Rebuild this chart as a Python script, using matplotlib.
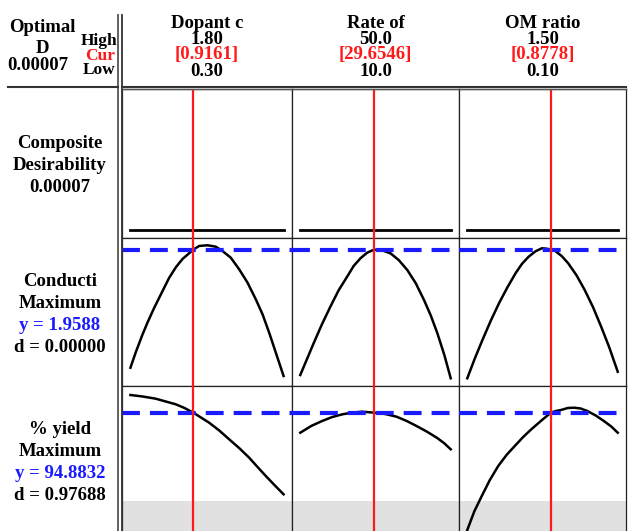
"""
Response optimizer panel: composite desirability, conductivity and % yield
traced against the three factors, with current settings marked in red.
"""
import numpy as np
import matplotlib.pyplot as plt

W, H = 628, 531

# factors
factor_names = ["Dopant c", "Rate of", "OM ratio"]
factor_low = [0.30, 10.0, 0.10]
factor_high = [1.80, 50.0, 1.50]
factor_cur = [0.9161, 29.6546, 0.8778]
low_labels = ["0.30", "10.0", "0.10"]
high_labels = ["1.80", "50.0", "1.50"]
cur_labels = ["[0.9161]", "[29.6546]", "[0.8778]"]

# composite desirability
composite_d = 0.00007

# conductivity (maximise)
cond_y = 1.9588
cond_d = 0.00000
cond_x1 = [0.30, 0.352, 0.418, 0.467, 0.532, 0.614, 0.679, 0.745, 0.810, 0.9161, 0.973,
           1.055, 1.136, 1.202, 1.283, 1.365, 1.447, 1.528, 1.594, 1.659, 1.724, 1.80]
cond_v1 = [0.626, 0.800, 1.000, 1.135, 1.300, 1.490, 1.640, 1.760, 1.853, 1.9588, 2.000,
           2.008, 1.992, 1.943, 1.868, 1.737, 1.586, 1.398, 1.229, 1.021, 0.796, 0.533]
cond_x2 = [10.0, 13.55, 15.8, 18.0, 20.2, 22.45, 24.2, 26.0, 27.8, 29.6546, 31.8,
           34.0, 36.2, 38.45, 40.7, 42.9, 44.7, 46.45, 48.3, 50.0]
cond_v2 = [0.544, 0.902, 1.120, 1.315, 1.500, 1.653, 1.775, 1.861, 1.925, 1.9588, 1.950,
           1.917, 1.840, 1.729, 1.580, 1.390, 1.215, 1.015, 0.770, 0.507]
cond_x3 = [0.10, 0.17, 0.241, 0.318, 0.395, 0.472, 0.549, 0.61, 0.671, 0.735, 0.794,
           0.835, 0.8778, 0.917, 0.98, 1.039, 1.116, 1.193, 1.27, 1.346, 1.42, 1.50]
cond_v3 = [0.507, 0.730, 0.939, 1.155, 1.353, 1.530, 1.692, 1.800, 1.879, 1.940, 1.974,
           1.970, 1.9588, 1.945, 1.885, 1.805, 1.670, 1.503, 1.310, 1.089, 0.860, 0.581]

# % yield (maximise)
yield_y = 94.8832
yield_d = 0.97688
yield_lower = 86.0
yield_x1 = [0.30, 0.42, 0.548, 0.744, 0.83, 0.9161, 1.071, 1.17, 1.267, 1.37, 1.463,
            1.545, 1.626, 1.715, 1.80]
yield_v1 = [96.65, 96.50, 96.28, 95.72, 95.35, 94.8832, 93.88, 93.10, 92.22, 91.30, 90.38,
            89.45, 88.55, 87.60, 86.72]
yield_x2 = [10.0, 12.9, 15.8, 18.5, 21.2, 24.0, 26.5, 29.6546, 32.6, 35.6, 38.3, 40.9,
            43.6, 46.3, 48.2, 50.0]
yield_v2 = [92.88, 93.55, 94.05, 94.45, 94.72, 94.90, 94.98, 94.8832, 94.75, 94.48, 94.05,
            93.55, 93.00, 92.38, 91.85, 91.22]
yield_x3 = [0.10, 0.165, 0.235, 0.31, 0.388, 0.465, 0.542, 0.62, 0.696, 0.79, 0.8778,
            0.925, 0.972, 1.035, 1.095, 1.155, 1.217, 1.295, 1.371, 1.44, 1.50]
yield_v3 = [83.15, 85.00, 86.55, 88.15, 89.55, 90.65, 91.55, 92.45, 93.22, 94.10, 94.8832,
            95.05, 95.15, 95.35, 95.38, 95.30, 95.05, 94.60, 94.05, 93.50, 92.88]

cond_x = [cond_x1, cond_x2, cond_x3]
cond_v = [cond_v1, cond_v2, cond_v3]
yield_x = [yield_x1, yield_x2, yield_x3]
yield_v = [yield_v1, yield_v2, yield_v3]

plt.rcParams['font.family'] = ['Liberation Serif', 'DejaVu Serif']
plt.rcParams['font.weight'] = 'bold'
FS = 13.5
RED = '#ff1a1a'
BLUE = '#1a1aff'

fig = plt.figure(figsize=(W / 100, H / 100), dpi=100)


def box(x0, y0, x1, y1):
    return [x0 / W, 1 - y1 / H, (x1 - x0) / W, (y1 - y0) / H]


def txt(x, y, s, **kw):
    kw.setdefault('fontsize', FS)
    kw.setdefault('fontweight', 'bold')
    kw.setdefault('va', 'center')
    kw.setdefault('ha', 'center')
    fig.text(x / W, 1 - y / H, s, **kw)


def hline(x0, x1, y, **kw):
    fig.add_artist(plt.Line2D([x0 / W, x1 / W], [1 - y / H, 1 - y / H], **kw))


def vline(x, y0, y1, **kw):
    fig.add_artist(plt.Line2D([x / W, x / W], [1 - y0 / H, 1 - y1 / H], **kw))


cols = [(122, 292), (292, 459), (459, 626)]
rows = [(89, 238), (238, 386), (386, 545)]

for j, (c0, c1) in enumerate(cols):
    lo, hi = factor_low[j], factor_high[j]
    pad = 0.055 * (hi - lo)
    for i, (r0, r1) in enumerate(rows):
        ax = fig.add_axes(box(c0, r0, c1, r1))
        ax.set_xlim(lo - pad, hi + pad)
        ax.set_xticks([])
        ax.set_yticks([])
        for s in ax.spines.values():
            s.set_linewidth(0.9)
            s.set_color('#222222')
        if i == 0:
            ax.set_ylim(-0.057, 1.0)
            ax.plot([lo, hi], [composite_d, composite_d], color='black', lw=2.0)
        elif i == 1:
            ax.set_ylim(2.09 - 148 * 0.011284, 2.09)
            ax.plot(cond_x[j], cond_v[j], color='black', lw=1.8)
            ax.axhline(cond_y, color=BLUE, lw=3.0, dashes=(4.3, 2.4), zorder=3)
        else:
            ax.set_ylim(97.55 - 15.9, 97.55)
            ax.axhspan(97.55 - 15.9, yield_lower, color='#e1e1e1', lw=0, zorder=0)
            ax.plot(yield_x[j], yield_v[j], color='black', lw=1.8)
            ax.axhline(yield_y, color=BLUE, lw=3.0, dashes=(4.3, 2.4), zorder=3)
        ax.axvline(factor_cur[j], color=RED, lw=1.6, zorder=4)

    # header for each factor
    xc = (c0 + c1) / 2
    txt(xc, 23, factor_names[j])
    txt(xc, 39, high_labels[j])
    txt(xc, 55, cur_labels[j], color=RED)
    txt(xc, 71, low_labels[j])

# top-left header block
txt(42, 28, "Optimal")
txt(42, 48, "D")
txt(38, 66, "0.00007")
txt(117, 41, "High", ha='right', fontsize=12.5)
txt(115, 55.5, "Cur", ha='right', color=RED, fontsize=12.5)
txt(115, 70, "Low", ha='right', fontsize=12.5)

# row labels
txt(60, 144, "Composite")
txt(60, 166, "Desirability")
txt(60, 187, "%.5f" % composite_d)

txt(60, 281, "Conducti")
txt(60, 303, "Maximum")
txt(60, 325, "y = %.4f" % cond_y, color=BLUE)
txt(60, 347, "d = %.5f" % cond_d)

txt(60, 430, "% yield")
txt(60, 452, "Maximum")
txt(60, 474, "y = %.4f" % yield_y, color=BLUE)
txt(60, 496, "d = %.5f" % yield_d)

# separators
vline(118, 15, 545, color='#555555', lw=1.3)
vline(121.5, 15, 545, color='#333333', lw=1.3)
hline(8, 118, 86.5, color='#333333', lw=1.5)
hline(121.5, 626, 86.5, color='#333333', lw=1.5)
hline(121.5, 626, 89, color='#555555', lw=1.0)

fig.savefig("out.png", dpi=100)
